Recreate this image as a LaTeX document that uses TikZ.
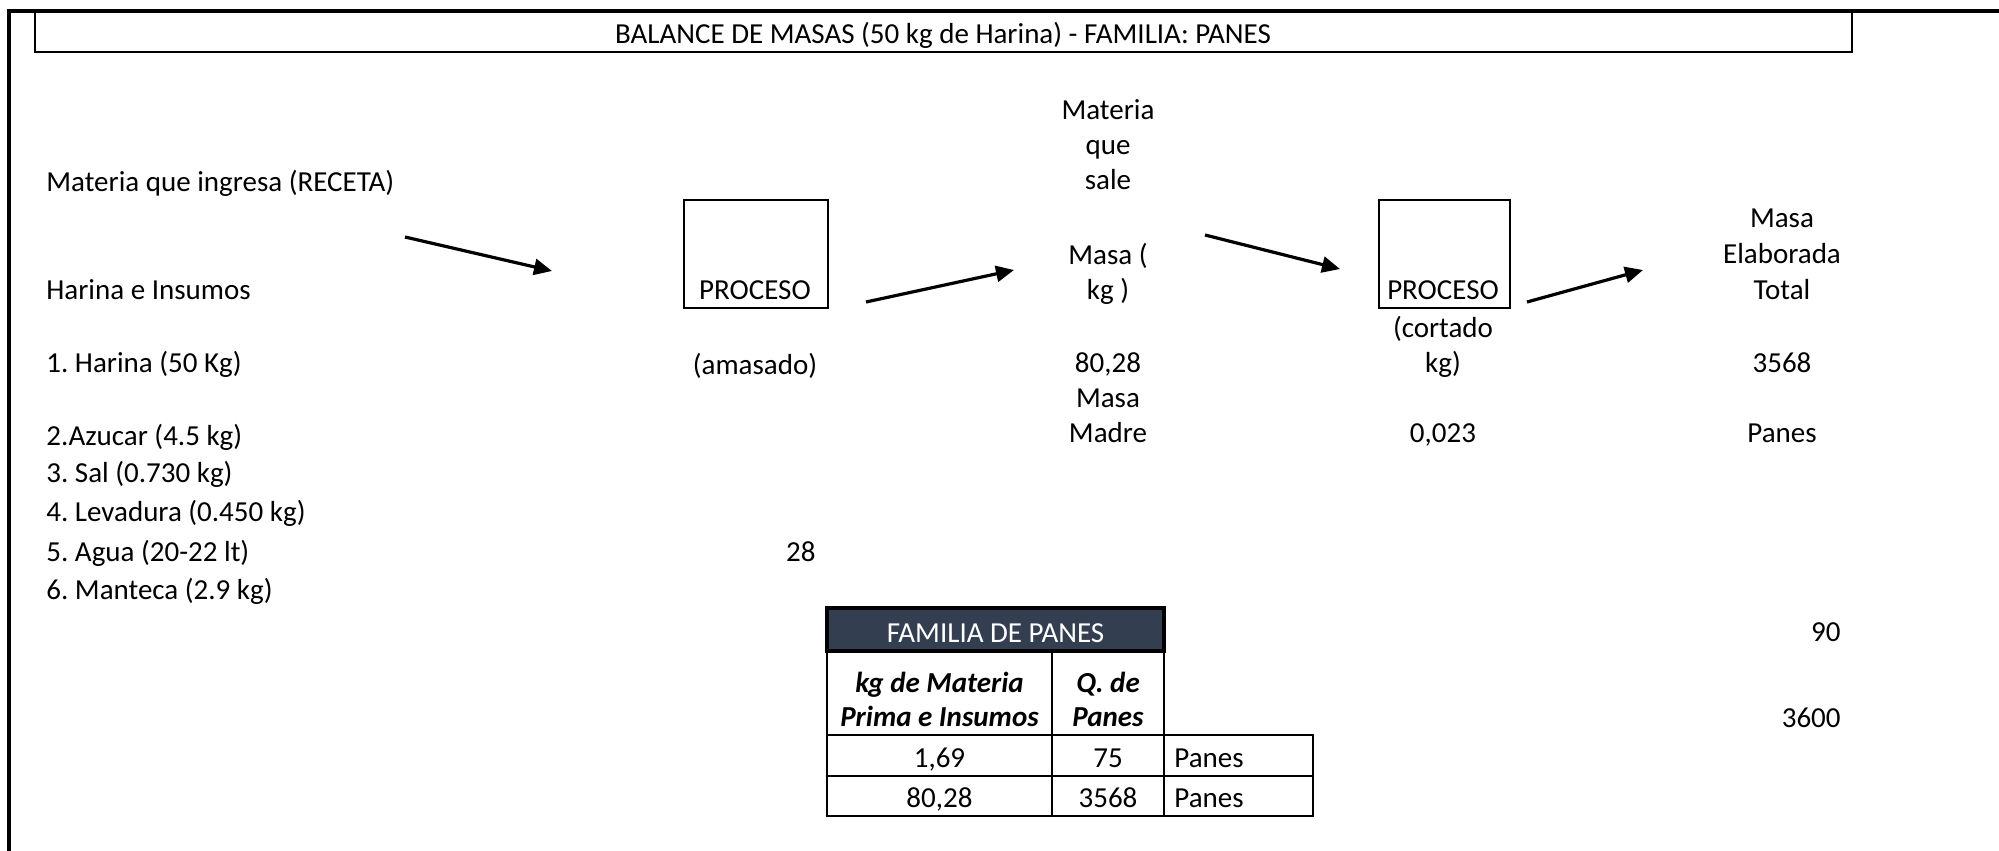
\documentclass[tikz,border=0pt]{standalone}
\usepackage{fontspec}
\setmainfont{Carlito}
\usetikzlibrary{arrows.meta}
\definecolor{hdrblue}{RGB}{51,63,80}
\frenchspacing
\begin{document}
\begin{tikzpicture}[x=0.5pt,y=-0.5pt,
  txt/.style={inner sep=0pt,font=\fontsize{14.5}{17.5}\selectfont},
  lt/.style={txt,anchor=base west},
  ct/.style={txt,anchor=base},
  rt/.style={txt,anchor=base east},
  bi/.style={ct,font=\fontsize{14.5}{17.5}\selectfont\bfseries\itshape},
  flow/.style={line width=1.6pt,-{Triangle[length=9pt,width=8pt]}},
  procbox/.style={draw,line width=1pt,inner sep=0pt,anchor=north west},
  cell/.style={draw,line width=1.3pt},
  hdr/.style={draw,line width=1.6pt,fill=hdrblue}
]
\useasboundingbox (0,0) rectangle (1999,851);

% sheet frame and title bar
\draw[line width=1.75pt] (9,851) -- (9,11) -- (1999,11);
\draw[line width=1pt] (35,11) rectangle (1852,52);
\node[ct] (title) at (943,43) {BALANCE DE MASAS (50 kg de Harina) - FAMILIA: PANES};

% recipe inputs
\node[lt] (ingresa) at (46,191) {Materia que ingresa (RECETA)};
\node[lt] (insumos) at (46,299) {Harina e Insumos};
\node[lt] (i1) at (46,372) {1. Harina (50 Kg)};
\node[lt] (i2) at (46,445) {2.Azucar (4.5 kg)};
\node[lt] (i3) at (46,482) {3. Sal (0.730 kg)};
\node[lt] (i4) at (46,521) {4. Levadura (0.450 kg)};
\node[lt] (i5) at (46,561) {5. Agua (20-22 lt)};
\node[lt] (i6) at (46,599) {6. Manteca (2.9 kg)};
\node[rt] (n28) at (816,561) {28};

% kneading step
\node[procbox,minimum width=72pt,minimum height=54pt] (p1) at (683,199) {};
\node[ct] (p1t) at (755,299) {PROCESO};
\node[ct] (p1l) at (755,374) {(amasado)};

% dough output
\node[ct] (s1) at (1108,119) {Materia};
\node[ct] (s2) at (1108,154) {que};
\node[ct] (s3) at (1108,189) {sale};
\node[ct] (m1) at (1108,264) {Masa (};
\node[ct] (m2) at (1108,299) {kg )};
\node[ct] (m3) at (1108,372) {80,28};
\node[ct] (m4) at (1108,407) {Masa};
\node[ct] (m5) at (1108,442) {Madre};

% cutting step
\node[procbox,minimum width=65.5pt,minimum height=54pt] (p2) at (1378,199) {};
\node[ct] (p2t) at (1443,299) {PROCESO};
\node[ct] (p2l1) at (1443,337) {(cortado};
\node[ct] (p2l2) at (1443,372) {kg)};
\node[ct] (p2v) at (1443,442) {0,023};

% final product
\node[ct] (e1) at (1782,227) {Masa};
\node[ct] (e2) at (1782,263) {Elaborada};
\node[ct] (e3) at (1782,299) {Total};
\node[ct] (e4) at (1782,372) {3568};
\node[ct] (e5) at (1782,442) {Panes};
\node[rt] (n90) at (1841,641) {90};
\node[rt] (n3600) at (1841,727) {3600};

% flow arrows
\coordinate (a1s) at (405,237);  \coordinate (a1e) at (552,271);
\coordinate (a2s) at (866,302);  \coordinate (a2e) at (1014,270);
\coordinate (a3s) at (1205,235); \coordinate (a3e) at (1340,269);
\coordinate (a4s) at (1527,302); \coordinate (a4e) at (1643,270);
\draw[flow] (a1s) -- (a1e);
\draw[flow] (a2s) -- (a2e);
\draw[flow] (a3s) -- (a3e);
\draw[flow] (a4s) -- (a4e);

% summary table
\draw[cell] (827,651) rectangle (1052,735);
\draw[cell] (1052,651) rectangle (1164,735);
\draw[cell] (827,735) rectangle (1052,776);
\draw[cell] (1052,735) rectangle (1164,776);
\draw[cell] (1164,735) rectangle (1313,776);
\draw[cell] (827,776) rectangle (1052,816);
\draw[cell] (1052,776) rectangle (1164,816);
\draw[cell] (1164,776) rectangle (1313,816);
\draw[hdr] (827,608) rectangle (1164,651);
\node[ct,text=white] (fam) at (995.5,642) {FAMILIA DE PANES};
\node[bi] (h1a) at (939.5,692) {kg de Materia};
\node[bi] (h1b) at (939.5,726) {Prima e Insumos};
\node[bi] (h2a) at (1108,692) {Q. de};
\node[bi] (h2b) at (1108,726) {Panes};
\node[ct] (r1a) at (939.5,767) {1,69};
\node[ct] (r1b) at (1108,767) {75};
\node[lt] (r1c) at (1174,767) {Panes};
\node[ct] (r2a) at (939.5,807) {80,28};
\node[ct] (r2b) at (1108,807) {3568};
\node[lt] (r2c) at (1174,807) {Panes};
\end{tikzpicture}
\end{document}
